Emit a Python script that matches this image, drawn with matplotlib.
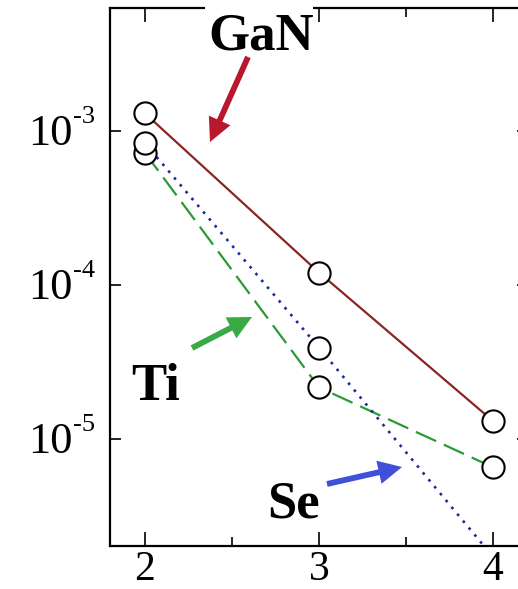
import matplotlib
matplotlib.use("Agg")
import matplotlib.pyplot as plt
from matplotlib.patches import FancyArrowPatch, Rectangle
from matplotlib.ticker import FixedLocator, NullLocator, NullFormatter

plt.rcParams['font.family'] = ['Liberation Serif', 'DejaVu Serif']

# ---- data ----
x_vals = [2, 3, 4]
gan = [1.3e-3, 1.2e-4, 1.3e-5]
se = [8.3e-4, 3.9e-5, 1.7e-6]
ti = [7.2e-4, 2.15e-5, 6.5e-6]
x_ticks = [2, 3, 4]
x_minor = [2.5, 3.5]
y_ticks = [1e-3, 1e-4, 1e-5]
y_exps = ["-3", "-4", "-5"]
labels = ["GaN", "Ti", "Se"]

W, H = 518, 589
fig = plt.figure(figsize=(W / 100, H / 100), dpi=100)

def fx(px):
    return px / W

def fy(py):
    return 1 - py / H

# axes: x from 1.8 to 4.2 (right part cropped off the figure)
left_px, right_px = 110.2, 527.8
top_px, bot_px = 8, 546
ax = fig.add_axes([fx(left_px), fy(bot_px), (right_px - left_px) / W, (bot_px - top_px) / H])
ax.set_xlim(1.8, 4.2)
ax.set_yscale('log')
ax.set_ylim(2.0e-6, 6.3e-3)

for s in ax.spines.values():
    s.set_linewidth(1.6)

# lines
ax.plot(x_vals, gan, color='#8b2525', lw=1.6, ls='-', zorder=2)
ax.plot(x_vals, ti, color='#2a9a35', lw=1.6, ls=(0, (10, 3.8)), zorder=2)
ax.plot(x_vals, se, color='#1f2a9a', lw=1.9, ls=(0, (1, 2.4)), zorder=2)
# markers (white filled circles)
for vals, z in ((gan, 3), (ti, 4), (se, 5)):
    ax.plot(x_vals, vals, ls='none', marker='o', ms=16, mfc='white',
            mec='black', mew=1.5, zorder=z)

# ticks
ax.xaxis.set_major_locator(FixedLocator(x_ticks))
ax.xaxis.set_minor_locator(FixedLocator(x_minor))
ax.yaxis.set_major_locator(FixedLocator(y_ticks))
ax.yaxis.set_minor_locator(NullLocator())
ax.yaxis.set_minor_formatter(NullFormatter())
ax.set_xticklabels([str(t) for t in x_ticks])
ax.set_yticklabels([])
ax.tick_params(axis='x', which='major', direction='in', length=10, width=1.2,
               top=True, labelsize=30, pad=3)
ax.tick_params(axis='x', which='minor', direction='in', length=6.5, width=1.2, top=True)
ax.tick_params(axis='y', which='major', direction='in', length=8, width=1.2,
               right=True)

# custom y tick labels: "10" with small superscript exponent
for v, e in zip(y_ticks, y_exps):
    ax.annotate("10", xy=(0, v), xycoords=('axes fraction', 'data'),
                xytext=(-38, -14.5), textcoords='offset pixels',
                ha='right', va='baseline', fontsize=32, annotation_clip=False)
    ax.annotate(e, xy=(0, v), xycoords=('axes fraction', 'data'),
                xytext=(-37, 8), textcoords='offset pixels',
                ha='left', va='baseline', fontsize=19, annotation_clip=False)

# white patch behind the GaN label (interrupts the top frame)
fig.add_artist(Rectangle((fx(205), fy(16)), (313 - 205) / W, 16 / H,
                         transform=fig.transFigure, facecolor='white',
                         edgecolor='none', zorder=9))

# labels
fig.text(fx(261), fy(50), labels[0], ha='center', va='baseline', fontsize=38,
         fontweight='bold', zorder=10)
fig.text(fx(156), fy(400), labels[1], ha='center', va='baseline', fontsize=38,
         fontweight='bold', zorder=10)
fig.text(fx(293), fy(518), labels[2], ha='center', va='baseline', fontsize=38,
         fontweight='bold', zorder=10)

# arrows
def arrow(p0, p1, color):
    a = FancyArrowPatch((fx(p0[0]), fy(p0[1])), (fx(p1[0]), fy(p1[1])),
                        transform=fig.transFigure,
                        arrowstyle='simple,head_length=1.7,head_width=1.7,tail_width=0.42',
                        mutation_scale=10, color=color, lw=0, shrinkA=0, shrinkB=0,
                        zorder=11)
    fig.add_artist(a)

arrow((248, 57), (210, 142), '#b8172e')
arrow((192, 348), (252, 317), '#3aaa45')
arrow((327, 484), (402, 467), '#4150d8')

fig.savefig("out.png", dpi=100)
